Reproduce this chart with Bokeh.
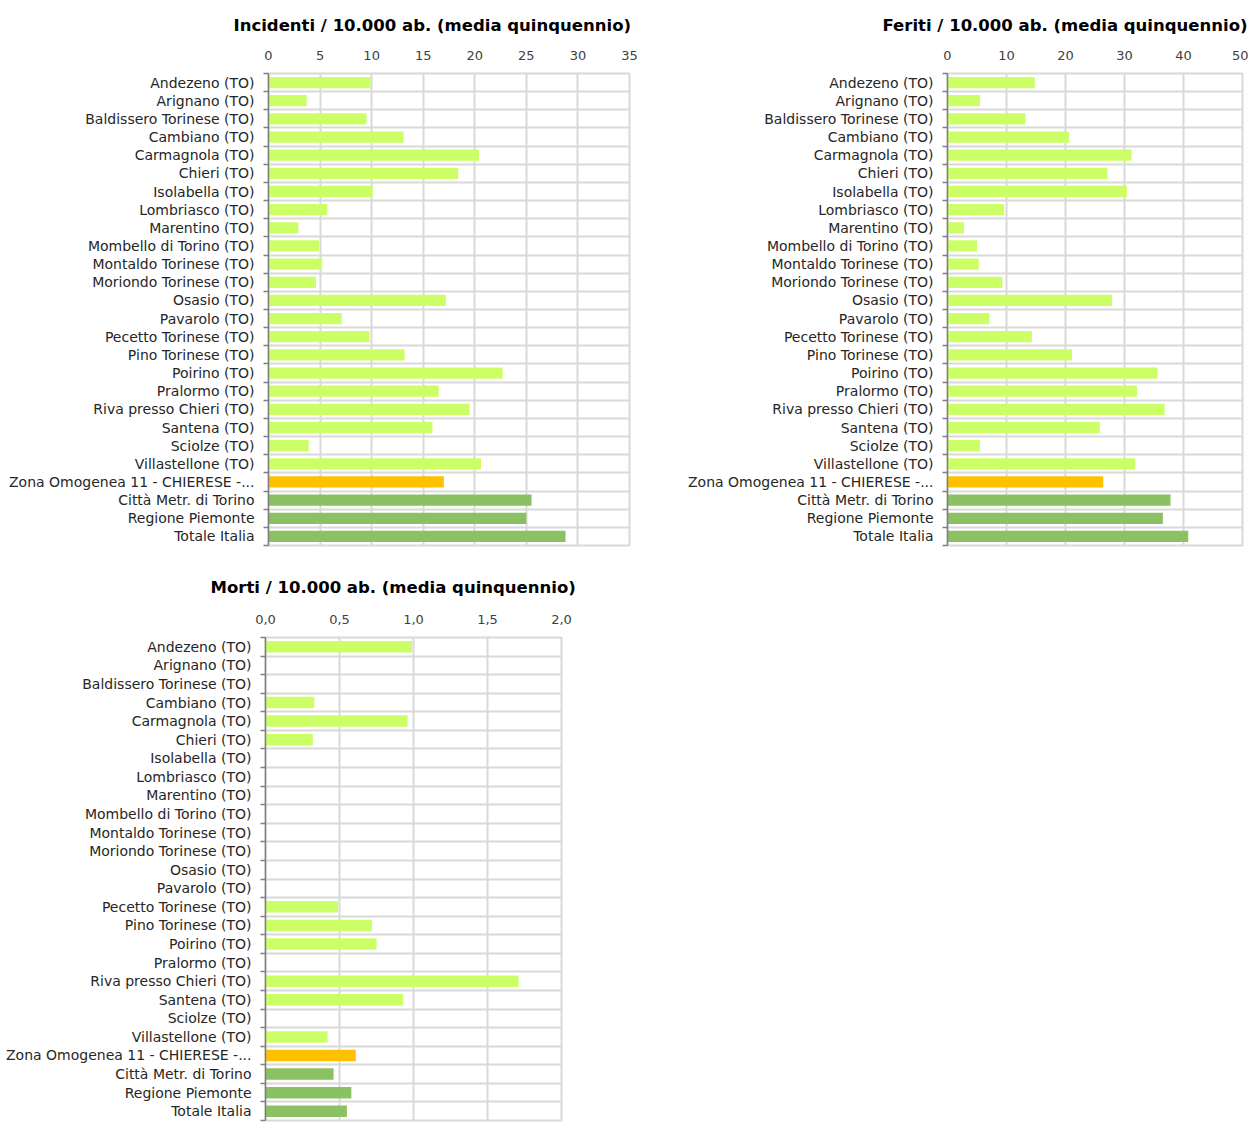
from bokeh.plotting import figure
from bokeh.layouts import column, row
from bokeh.models import Range1d, FixedTicker, ColumnDataSource, Title, CustomJSTickFormatter
from bokeh.embed import file_html
from bokeh.resources import INLINE

categories = [
    "Andezeno (TO)", "Arignano (TO)", "Baldissero Torinese (TO)", "Cambiano (TO)",
    "Carmagnola (TO)", "Chieri (TO)", "Isolabella (TO)", "Lombriasco (TO)",
    "Marentino (TO)", "Mombello di Torino (TO)", "Montaldo Torinese (TO)",
    "Moriondo Torinese (TO)", "Osasio (TO)", "Pavarolo (TO)", "Pecetto Torinese (TO)",
    "Pino Torinese (TO)", "Poirino (TO)", "Pralormo (TO)", "Riva presso Chieri (TO)",
    "Santena (TO)", "Sciolze (TO)", "Villastellone (TO)",
    "Zona Omogenea 11 - CHIERESE -...", "Città Metr. di Torino", "Regione Piemonte",
    "Totale Italia",
]
groups = ["comune"] * 22 + ["zona", "area", "area", "area"]

incidenti = [9.9, 3.7, 9.5, 13.1, 20.4, 18.4, 10.1, 5.7, 2.9, 4.9, 5.2,
             4.6, 17.2, 7.1, 9.8, 13.2, 22.7, 16.5, 19.5, 15.9, 3.9, 20.6,
             17.0, 25.5, 25.0, 28.8]
feriti = [14.8, 5.5, 13.2, 20.6, 31.2, 27.1, 30.4, 9.6, 2.8, 5.0, 5.3,
          9.3, 27.9, 7.1, 14.3, 21.1, 35.6, 32.1, 36.8, 25.8, 5.5, 31.8,
          26.4, 37.8, 36.5, 40.8]
morti = [0.99, 0.0, 0.0, 0.33, 0.96, 0.32, 0.0, 0.0, 0.0, 0.0, 0.0,
         0.0, 0.0, 0.0, 0.49, 0.72, 0.75, 0.0, 1.71, 0.93, 0.0, 0.42,
         0.61, 0.46, 0.58, 0.55]

titles = [
    "Incidenti / 10.000  ab. (media quinquennio)",
    "Feriti / 10.000  ab. (media quinquennio)",
    "Morti / 10.000  ab. (media quinquennio)",
]
x_ticks = [
    [0, 5, 10, 15, 20, 25, 30, 35],
    [0, 10, 20, 30, 40, 50],
    [0.0, 0.5, 1.0, 1.5, 2.0],
]

COLORS = {"comune": "#CCFF66", "zona": "#FFC000", "area": "#8CC163"}
FONT = "DejaVu Sans"
GRID = "#D9D9D9"


def make_chart(values, title, ticks, width, height, bl, bt, bb, br, decimals,
               title_offset, title_standoff):
    n = len(categories)
    centers = [i + 0.5 for i in range(n)]
    source = ColumnDataSource(dict(
        y=centers, v=values, color=[COLORS[g] for g in groups],
    ))
    p = figure(width=width, height=height, output_backend="svg", toolbar_location=None,
               x_range=Range1d(ticks[0], ticks[-1]), y_range=Range1d(n, 0),
               x_axis_location="above", min_border_left=bl, min_border_top=bt,
               min_border_bottom=bb, min_border_right=br)
    p.hbar(y="y", right="v", left=0, height=0.62, color="color", source=source,
           line_color=None)
    p.outline_line_color = GRID
    p.outline_line_width = 2
    p.background_fill_color = "white"
    p.border_fill_color = "white"

    # x axis (top)
    xa = p.xaxis[0]
    xa.ticker = FixedTicker(ticks=ticks)
    if decimals:
        xa.formatter = CustomJSTickFormatter(code="return tick.toFixed(1).replace('.', ',');")
    xa.axis_line_color = None
    xa.major_tick_line_color = None
    xa.minor_tick_line_color = None
    xa.major_label_text_font = FONT
    xa.major_label_text_font_size = "13px"
    xa.major_label_text_color = "#404040"
    xa.major_label_standoff = 8

    # y axis (left) - labels at category centers, ticks at boundaries
    ya = p.yaxis[0]
    ya.ticker = FixedTicker(ticks=centers, minor_ticks=list(range(n + 1)))
    ya.major_label_overrides = {c: categories[i] for i, c in enumerate(centers)}
    ya.major_tick_line_color = None
    ya.minor_tick_line_color = "#7F7F7F"
    ya.minor_tick_line_width = 1.5
    ya.minor_tick_out = 5
    ya.minor_tick_in = 0
    ya.axis_line_color = "#7F7F7F"
    ya.axis_line_width = 1.5
    ya.major_label_text_font = FONT
    ya.major_label_text_font_size = "14px"
    ya.major_label_text_color = "#262626"
    ya.major_label_standoff = 8

    p.xgrid.ticker = FixedTicker(ticks=ticks)
    p.xgrid.grid_line_color = GRID
    p.xgrid.grid_line_width = 2
    p.ygrid.ticker = FixedTicker(ticks=list(range(n + 1)))
    p.ygrid.grid_line_color = GRID
    p.ygrid.grid_line_width = 2

    p.title = Title(text=title, align="left", offset=title_offset,
                    text_font=FONT, text_font_size="16.5px", text_font_style="bold",
                    text_color="#000000", standoff=title_standoff)
    return p


p1 = make_chart(incidenti, titles[0], x_ticks[0], width=640, height=554,
                bl=268, bt=72, bb=8, br=11, decimals=False,
                title_offset=-35, title_standoff=26)
p2 = make_chart(feriti, titles[1], x_ticks[1], width=608, height=554,
                bl=307, bt=70, bb=9, br=6, decimals=False,
                title_offset=-65, title_standoff=25)
p3 = make_chart(morti, titles[2], x_ticks[2], width=585, height=568,
                bl=265, bt=83, bb=2, br=24, decimals=True,
                title_offset=-55, title_standoff=30)

layout = column(row(p1, p2), p3)
open("out.html", "w").write(file_html(layout, INLINE))
